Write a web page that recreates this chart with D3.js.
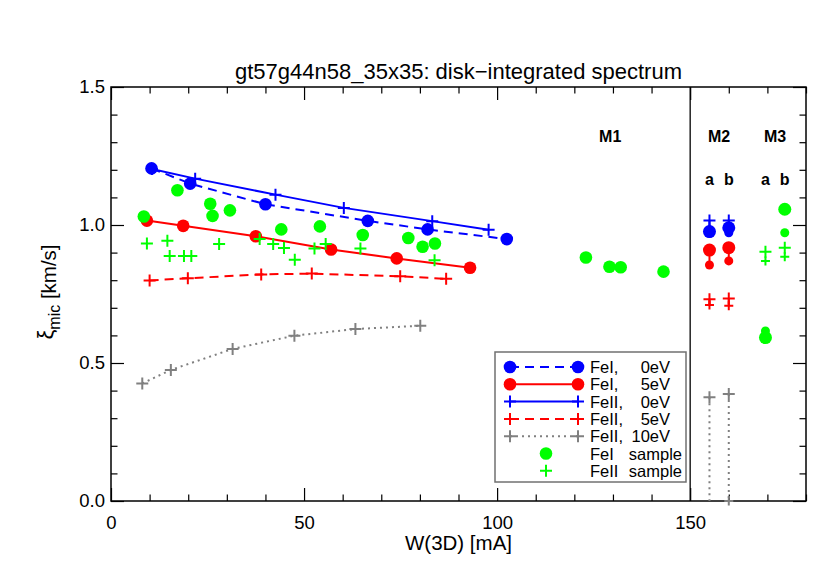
<!DOCTYPE html>
<html>
<head>
<meta charset="utf-8">
<script src="https://cdn.jsdelivr.net/npm/d3@7"></script>
<style>
  body { margin: 0; background: #fff; }
  svg { font-family: "Liberation Sans", Arial, Helvetica, sans-serif; }
</style>
</head>
<body>
<div class="chart"></div>
<script>
/////// DATA ///////////////////////////////////////
// W(3D) [mA] and xi_mic [km/s]
let feI0W   = [10.5, 20.5, 40.0, 66.5, 82.0, 102.5];
let feI0Xi  = [1.205, 1.150, 1.075, 1.015, 0.984, 0.949];
let feI5W   = [9.3, 18.7, 37.5, 57.0, 74.0, 93.0];
let feI5Xi  = [1.016, 0.997, 0.959, 0.911, 0.879, 0.845];
let feII0W  = [10.6, 21.8, 42.6, 60.3, 83.2, 97.8];
let feII0Xi = [1.203, 1.168, 1.110, 1.062, 1.014, 0.983];
let feII5W  = [10.0, 19.9, 38.9, 52.0, 74.9, 86.8];
let feII5Xi = [0.799, 0.807, 0.821, 0.824, 0.814, 0.805];
let feII10W  = [8.1, 15.5, 31.5, 47.5, 63.3, 80.1];
let feII10Xi = [0.426, 0.475, 0.551, 0.599, 0.623, 0.635];

let feISampleW  = [8.5, 17.2, 25.7, 26.3, 30.8, 44.1, 54.1, 65.2, 77.0, 80.7, 83.9, 123.0, 129.1, 132.0, 143.1];
let feISampleXi = [1.031, 1.126, 1.077, 1.033, 1.053, 0.984, 0.995, 0.964, 0.953, 0.921, 0.933, 0.882, 0.849, 0.847, 0.831];
let feIISampleW  = [9.3, 14.6, 15.2, 18.9, 20.8, 28.0, 38.5, 42.0, 44.8, 47.6, 52.7, 55.6, 64.6, 83.8];
let feIISampleXi = [0.933, 0.943, 0.888, 0.888, 0.888, 0.931, 0.949, 0.931, 0.917, 0.874, 0.915, 0.931, 0.915, 0.872];

// M2 / M3 columns: [large symbol, small symbol] per column a, b
let m2W = [155, 160];
let m2FeI0   = [[0.976, 0.970], [0.990, 0.972]];
let m2FeI5   = [[0.909, 0.855], [0.918, 0.870]];
let m2FeII0  = [[1.016, 0.985], [1.016, 0.995]];
let m2FeII5  = [[0.731, 0.710], [0.734, 0.707]];
let m2FeII10 = [[0.376, -0.05], [0.388, 0.0]];
let m3W = [169.5, 174.5];
let m3FeISample  = [[0.592, 0.616], [1.057, 0.972]];
let m3FeIISample = [[0.903, 0.870], [0.918, 0.885]];

let groupLabels = ['M1', 'M2', 'M3'];
let groupLabelW = [129.3, 157.5, 172];
let subLabels = ['a', 'b', 'a', 'b'];
let subLabelW = [155, 160, 169.5, 174.5];

let legendNames  = ['FeI,', 'FeI,', 'FeII,', 'FeII,', 'FeII,', 'FeI', 'FeII'];
let legendSuffix = ['0eV', '5eV', '0eV', '5eV', '10eV', 'sample', 'sample'];

let xMajor = [0, 50, 100, 150];
let yMajor = [0, 0.5, 1.0, 1.5];

/////// SETUP ///////////////////////////////////////
let W = 830, H = 561;
let pl = 111, pr = 806, pt = 87, pb = 501;

let svg = d3.select('.chart').append('svg')
    .attr('width', W)
    .attr('height', H);

let x = d3.scaleLinear().domain([0, 180]).range([pl, pr]);
let y = d3.scaleLinear().domain([0, 1.5]).range([pb, pt]);

let BLUE = '#0000ff', RED = '#ff0000', GREEN = '#00ff00', GRAY = '#808080';

svg.append('defs').append('clipPath').attr('id', 'plotclip')
  .append('rect').attr('x', pl).attr('y', pt)
  .attr('width', pr - pl).attr('height', pb - pt);

/////// AXES ///////////////////////////////////////
let minorX = d3.range(0, 181, 10).filter(d => !xMajor.includes(d));
let minorY = d3.range(0, 16).map(d => d / 10).filter(d => !yMajor.includes(d));

let styleAxis = function(g) {
  g.select('.domain').remove();
  g.selectAll('line').attr('stroke', '#000').attr('stroke-width', 1.2);
  g.selectAll('text').attr('fill', '#000');
};

svg.append('g').attr('transform', `translate(0,${pb})`)
  .call(d3.axisBottom(x).tickValues(minorX).tickSize(-6.5).tickFormat(''))
  .call(styleAxis);
svg.append('g').attr('transform', `translate(0,${pb})`)
  .call(d3.axisBottom(x).tickValues(xMajor).tickSize(-13).tickPadding(15).tickFormat(d3.format('d')))
  .call(styleAxis)
  .selectAll('text').style('font-size', '18.5px');
svg.append('g').attr('transform', `translate(0,${pt})`)
  .call(d3.axisTop(x).tickValues(minorX).tickSize(-6.5).tickFormat(''))
  .call(styleAxis);
svg.append('g').attr('transform', `translate(0,${pt})`)
  .call(d3.axisTop(x).tickValues(xMajor).tickSize(-13).tickFormat(''))
  .call(styleAxis);

svg.append('g').attr('transform', `translate(${pl},0)`)
  .call(d3.axisLeft(y).tickValues(minorY).tickSize(-6.5).tickFormat(''))
  .call(styleAxis);
svg.append('g').attr('transform', `translate(${pl},0)`)
  .call(d3.axisLeft(y).tickValues(yMajor).tickSize(-13).tickPadding(6).tickFormat(d3.format('.1f')))
  .call(styleAxis)
  .selectAll('text').style('font-size', '18.5px');
svg.append('g').attr('transform', `translate(${pr},0)`)
  .call(d3.axisRight(y).tickValues(minorY).tickSize(-6.5).tickFormat(''))
  .call(styleAxis);
svg.append('g').attr('transform', `translate(${pr},0)`)
  .call(d3.axisRight(y).tickValues(yMajor).tickSize(-13).tickFormat(''))
  .call(styleAxis);

svg.append('rect')
  .attr('x', pl).attr('y', pt)
  .attr('width', pr - pl).attr('height', pb - pt)
  .attr('fill', 'none').attr('stroke', '#000').attr('stroke-width', 1.5);

// divider at W = 150
svg.append('line')
  .attr('x1', x(150)).attr('x2', x(150))
  .attr('y1', pt).attr('y2', pb)
  .attr('stroke', '#000').attr('stroke-width', 1.3);

/////// TEXTS ///////////////////////////////////////
svg.append('text')
  .attr('x', (pl + pr) / 2).attr('y', 79)
  .attr('text-anchor', 'middle')
  .style('font-size', '22px')
  .text('gt57g44n58_35x35: disk\u2212integrated spectrum');

svg.append('text')
  .attr('x', (pl + pr) / 2).attr('y', 550)
  .attr('text-anchor', 'middle')
  .style('font-size', '20.5px')
  .text('W(3D) [mA]');

let ylab = svg.append('text')
  .attr('transform', 'translate(56,292) rotate(-90)')
  .attr('text-anchor', 'middle')
  .style('font-size', '20.5px');
ylab.append('tspan').attr('dy', -3).style('font-size', '22px').text('\u03be');
ylab.append('tspan').attr('dy', 7).style('font-size', '16px').text('mic');
ylab.append('tspan').attr('dy', -4).text(' [km/s]');

svg.selectAll('.grouplabel').data(groupLabels).enter().append('text')
  .attr('x', (d, i) => x(groupLabelW[i])).attr('y', 142)
  .attr('text-anchor', 'middle')
  .style('font-size', '16px').style('font-weight', 'bold')
  .text(d => d);

svg.selectAll('.sublabel').data(subLabels).enter().append('text')
  .attr('x', (d, i) => x(subLabelW[i])).attr('y', 185)
  .attr('text-anchor', 'middle')
  .style('font-size', '16px').style('font-weight', 'bold')
  .text(d => d);

/////// MARKS ///////////////////////////////////////
let dot = function(g, px, py, r, color) {
  g.append('circle').attr('cx', px).attr('cy', py).attr('r', r).attr('fill', color);
};
let plus = function(g, px, py, h, color) {
  g.append('path')
    .attr('d', `M${px - h},${py}H${px + h}M${px},${py - h}V${py + h}`)
    .attr('stroke', color).attr('stroke-width', 2).attr('fill', 'none');
};

let series = [
  { w: feI0W,   xi: feI0Xi,   color: BLUE, dash: '9,6', sym: 'dot',  m2: m2FeI0 },
  { w: feI5W,   xi: feI5Xi,   color: RED,  dash: null,  sym: 'dot',  m2: m2FeI5 },
  { w: feII0W,  xi: feII0Xi,  color: BLUE, dash: null,  sym: 'plus', m2: m2FeII0 },
  { w: feII5W,  xi: feII5Xi,  color: RED,  dash: '9,6', sym: 'plus', m2: m2FeII5 },
  { w: feII10W, xi: feII10Xi, color: GRAY, dash: '2,4', sym: 'plus', m2: m2FeII10 }
];

let line = d3.line().x(d => x(d[0])).y(d => y(d[1]));
let marks = svg.append('g');

series.forEach(s => {
  let pts = s.w.map((w, i) => [w, s.xi[i]]);
  marks.append('path')
    .attr('d', line(pts))
    .attr('fill', 'none').attr('stroke', s.color).attr('stroke-width', 2)
    .attr('stroke-dasharray', s.dash);
  pts.forEach(p => {
    if (s.sym === 'dot') dot(marks, x(p[0]), y(p[1]), 6.3, s.color);
    else plus(marks, x(p[0]), y(p[1]), 6, s.color);
  });
  // M2 columns: vertical segment from large to small symbol
  s.m2.forEach((pair, i) => {
    marks.append('path')
      .attr('clip-path', 'url(#plotclip)')
      .attr('d', line([[m2W[i], pair[0]], [m2W[i], pair[1]]]))
      .attr('fill', 'none').attr('stroke', s.color).attr('stroke-width', 2)
      .attr('stroke-dasharray', s.dash);
    pair.forEach((v, k) => {
      if (v < 0) return;
      if (s.sym === 'dot') dot(marks, x(m2W[i]), y(v), k === 0 ? 6.5 : 4.5, s.color);
      else plus(marks, x(m2W[i]), y(v), k === 0 ? 6 : 4.5, s.color);
    });
  });
});

// samples
feISampleW.forEach((w, i) => dot(marks, x(w), y(feISampleXi[i]), 6.3, GREEN));
feIISampleW.forEach((w, i) => plus(marks, x(w), y(feIISampleXi[i]), 6, GREEN));
m3FeISample.forEach((pair, i) => {
  dot(marks, x(m3W[i]), y(pair[0]), 6.5, GREEN);
  dot(marks, x(m3W[i]), y(pair[1]), 4.5, GREEN);
});
m3FeIISample.forEach((pair, i) => {
  plus(marks, x(m3W[i]), y(pair[0]), 6, GREEN);
  plus(marks, x(m3W[i]), y(pair[1]), 4.5, GREEN);
});

/////// LEGEND ///////////////////////////////////////
let lg = svg.append('g');
lg.append('rect')
  .attr('x', 495).attr('y', 352).attr('width', 191).attr('height', 130)
  .attr('fill', '#fff').attr('stroke', '#707070').attr('stroke-width', 1.5);

let legendSeries = series.concat([
  { color: GREEN, dash: null, sym: 'dot', sample: true },
  { color: GREEN, dash: null, sym: 'plus', sample: true }
]);
let rowY = d => 367 + d * 17.3;

legendSeries.forEach((s, i) => {
  let cy = rowY(i);
  if (!s.sample) {
    lg.append('line')
      .attr('x1', 510).attr('x2', 578).attr('y1', cy).attr('y2', cy)
      .attr('stroke', s.color).attr('stroke-width', 2)
      .attr('stroke-dasharray', s.dash);
    [510, 578].forEach(px => {
      if (s.sym === 'dot') dot(lg, px, cy, 6.3, s.color);
      else plus(lg, px, cy, 6, s.color);
    });
  } else {
    if (s.sym === 'dot') dot(lg, 546, cy, 6.3, s.color);
    else plus(lg, 546, cy, 6, s.color);
  }
  let t = lg.append('text')
    .attr('y', cy + 6)
    .style('font-size', '16.5px');
  t.append('tspan').attr('x', 590).text(legendNames[i]);
  t.append('tspan')
    .attr('x', s.sample ? 682 : 670)
    .attr('text-anchor', 'end')
    .text(legendSuffix[i]);
});
</script>
</body>
</html>
